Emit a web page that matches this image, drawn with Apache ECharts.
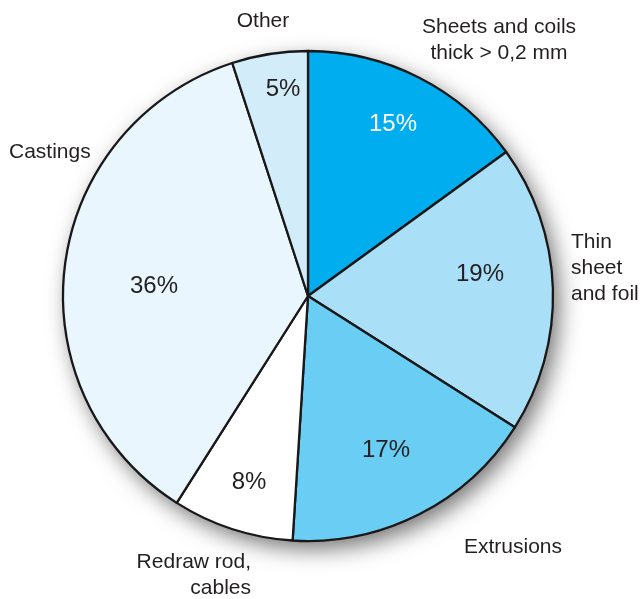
<!DOCTYPE html>
<html><head><meta charset="utf-8">
<script src="https://cdn.jsdelivr.net/npm/echarts@6/dist/echarts.min.js"></script>
<style>html,body{margin:0;padding:0;background:#fff}#c{width:643px;height:599px}</style>
</head><body><div id="c"></div>
<script>
const categories = ['Sheets and coils\nthick > 0,2 mm', 'Thin\nsheet\nand foil', 'Extrusions', 'Redraw rod,\ncables', 'Castings', 'Other'];
const shares = [15, 19, 17, 8, 36, 5];
const colors = ['#00adee', '#a9dff7', '#6acdf3', '#ffffff', '#e9f6fd', '#d2edf9'];
const pctColors = ['#ffffff', '#231f20', '#231f20', '#231f20', '#231f20', '#231f20'];

const CX = 308, CY = 296, R = 245;
// label anchor positions (text layout only)
const pctPos = [[393,124],[480,274],[386,450],[249,482],[154,286],[283,89]];
const namePos = [
  {x:499, y:40, align:'center'},
  {x:571, y:268, align:'left'},
  {x:513, y:547, align:'center'},
  {x:251, y:575, align:'right'},
  {x:9, y:152, align:'left'},
  {x:263, y:21, align:'center'}
];
const font = 'Liberation Sans, Arial, Helvetica, sans-serif';

const chart = echarts.init(document.getElementById('c'), null, {renderer:'canvas'});
chart.setOption({
  animation: false,
  backgroundColor: '#ffffff',
  series: [
    {
      type: 'pie', z: 1, silent: true,
      center: [CX, CY], radius: R,
      label: {show:false}, labelLine:{show:false},
      data: [{value: 1, itemStyle: {color:'#ffffff', shadowColor:'rgba(0,0,0,0.55)', shadowBlur: 22, shadowOffsetX: 6, shadowOffsetY: 8}}]
    },
    {
      type: 'pie', z: 2,
      center: [CX, CY], radius: R, startAngle: 90, clockwise: true,
      avoidLabelOverlap: false,
      itemStyle: {borderColor:'#1a1718', borderWidth: 2.3},
      label: {show: true, position:'inside', formatter: '{c}%', fontFamily: font, fontSize: 24, color:'#231f20'},
      labelLine: {show:false},
      labelLayout: function(p){ const q = pctPos[p.dataIndex]; return {x:q[0], y:q[1], align:'center', verticalAlign:'middle'}; },
      emphasis: {disabled: true},
      data: categories.map((n,i)=>({name:n, value:shares[i], itemStyle:{color:colors[i]}, label:{color:pctColors[i]}}))
    },
    {
      type: 'pie', z: 3, silent: true,
      center: [CX, CY], radius: R, startAngle: 90, clockwise: true,
      avoidLabelOverlap: false,
      itemStyle: {color:'rgba(0,0,0,0)', borderWidth:0},
      label: {show: true, position:'outside', formatter: '{b}', fontFamily: font, fontSize: 21, lineHeight: 26, color:'#231f20'},
      labelLine: {show:false},
      labelLayout: function(p){ const q = namePos[p.dataIndex]; return {x:q.x, y:q.y, align:q.align, verticalAlign:'middle'}; },
      emphasis: {disabled: true},
      data: categories.map((n,i)=>({name:n, value:shares[i]}))
    }
  ]
});
</script></body></html>
